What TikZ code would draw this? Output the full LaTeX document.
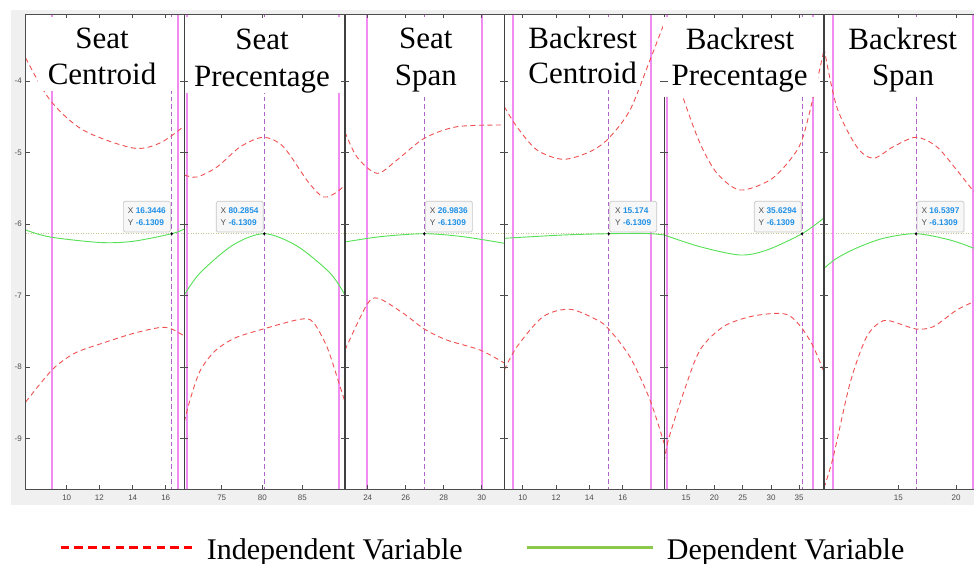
\documentclass[tikz,border=0pt]{standalone}
\usepackage{fontspec}
\setmainfont{Liberation Serif}
\newfontfamily\axfont{Liberation Sans}
\definecolor{bgG}{HTML}{F0F0F0}
\definecolor{magL}{HTML}{F08CF0}
\definecolor{purD}{HTML}{B064C8}
\definecolor{redC}{HTML}{F05050}
\definecolor{grnC}{HTML}{55E055}
\definecolor{tipBlue}{HTML}{1E90E6}
\definecolor{axG}{HTML}{4D4D4D}
\definecolor{dotL}{HTML}{C8C896}
\definecolor{legR}{HTML}{FF0000}
\definecolor{legG}{HTML}{8CC84B}
\tikzset{
  redcurve/.style={redC, line width=0.9pt, dash pattern=on 5pt off 3.5pt},
  grncurve/.style={grnC, line width=0.9pt},
  magline/.style={magL, line width=1.8pt},
  purline/.style={purD, line width=0.9pt, dash pattern=on 4.5pt off 3pt},
  panelline/.style={black!75, line width=1.3pt},
  tickmark/.style={axG, line width=0.7pt},
  ticklab/.style={axG, font=\axfont\fontsize{8}{9.6}\selectfont, inner sep=0pt},
  ttl/.style={font=\fontsize{31}{36}\selectfont, inner sep=0pt, anchor=base},
  tipbox/.style={draw=black!22, fill=white!97!black, rounded corners=1.5pt, line width=0.7pt,
     minimum width=47pt, minimum height=30.6pt, inner sep=1pt, align=left,
     font=\axfont\fontsize{8.3}{12}\selectfont},
  legtxt/.style={font=\fontsize{30}{36}\selectfont, inner sep=0pt, anchor=base west},
  dtdot/.style={fill=black}
}
\newcommand{\tipt}[2]{{\color{axG}X} {\color{tipBlue}\bfseries #1}\\{\color{axG}Y} {\color{tipBlue}\bfseries #2}}
\begin{document}
\begin{tikzpicture}[x=1pt,y=-1pt]
\useasboundingbox (0,0) rectangle (974,564);
% background and axes
\fill[bgG] (11,10) rectangle (974,505);
\fill[white] (25.7,14.3) rectangle (974,489);
% datatip horizontal dotted line
\draw[dotL, line width=0.7pt, dash pattern=on 1pt off 1.5pt] (25.7,233.7) -- (974,233.7);
% magenta bound lines
\foreach \mx in {51.7,177.7,187.3,339,367.3,481.7,513,651,667.3,813.3,833,972.7}
  \draw[magline] (\mx,14.3) -- (\mx,489);
% purple datatip lines
\foreach \px in {171.7,264.3,424.3,608.7,802,916}
  \draw[purline] (\px,14.3) -- (\px,489);
% ---- panel 1
\begin{scope}
\clip (25.7,14.3) rectangle (184.3,489);
\draw[redcurve] plot[smooth] coordinates {(25.7,58) (50,100) (83,130) (133,148) (160,143) (184.3,126)};
\draw[grncurve] plot[smooth] coordinates {(25.7,230) (50,237) (100,242.5) (133,241.3) (171.7,233.7) (184.3,229)};
\draw[redcurve] plot[smooth] coordinates {(25.7,402) (40,384) (55,367) (75,353) (100,344) (133,333.5) (160,327.5) (171.7,329) (184.3,336)};
\end{scope}
% ---- panel 2
\begin{scope}
\clip (184.3,14.3) rectangle (345,489);
\draw[redcurve] plot[smooth] coordinates {(184.3,175) (197,177) (217,167) (240,147) (263.3,137.3) (283.3,146.7) (306.7,180) (320,195) (327,197) (337,192) (345,185)};
\draw[grncurve] plot[smooth] coordinates {(184.3,295) (200,273) (233,245) (264.3,233.7) (297,246) (330,273) (345,295)};
\draw[redcurve] plot[smooth] coordinates {(184.3,422) (190,400) (200,371) (215,351) (235,338) (263.3,329) (300,319.3) (313,322) (327,347) (338,380) (345,402)};
\end{scope}
% ---- panel 3
\begin{scope}
\clip (345,14.3) rectangle (504.3,489);
\draw[redcurve] plot[smooth] coordinates {(345,132) (357,157) (377,173.3) (397,160) (424.3,138.3) (457,126.7) (504.3,125)};
\draw[grncurve] plot[smooth] coordinates {(345,242) (380,236.7) (424.3,233.7) (463,236.7) (504.3,243.3)};
\draw[redcurve] plot[smooth] coordinates {(345,350) (366.7,305) (378.3,298.3) (403.3,313.3) (424.3,329) (446.7,340) (480,350) (504.3,363)};
\end{scope}
% ---- panel 4
\begin{scope}
\clip (504.3,14.3) rectangle (664.3,489);
\draw[redcurve] plot[smooth] coordinates {(504.3,106.7) (517,127) (537,150) (563,159.3) (590,151.7) (608.7,138.3) (630,110) (650,60) (664.3,23)};
\draw[grncurve] plot[smooth] coordinates {(504.3,238.3) (563,235) (608.7,233.7) (647,233.5) (664.3,235)};
\draw[redcurve] plot[smooth] coordinates {(504.3,370) (517,346.7) (543,316.7) (570,309.3) (597,320) (608.7,329) (630,357) (650,400) (664.3,444)};
\end{scope}
% ---- panel 5
\begin{scope}
\clip (664.3,14.3) rectangle (824,489);
\draw[redcurve] plot[smooth] coordinates {(668,50) (683.3,98.3) (700,143.3) (717,173.3) (740,190) (770,180) (790,160) (802,140) (813.3,97) (824,50)};
\draw[grncurve] plot[smooth] coordinates {(664.3,235) (700,246.7) (740,255) (767,250) (802,233.7) (824,218)};
\draw[redcurve] plot[smooth] coordinates {(664.3,462) (668.3,440) (683.3,393.3) (700,350) (723.3,326.7) (750,316.7) (776.7,313.3) (790,316) (802,328.3) (813.3,346.7) (824,372)};
\end{scope}
% ---- panel 6
\begin{scope}
\clip (824,14.3) rectangle (974,489);
\draw[redcurve] plot[smooth] coordinates {(824,48) (836.7,106.7) (856.7,146.7) (873.3,158.3) (893.3,146.7) (916,137.3) (936.7,146.7) (956.7,170) (974,192)};
\draw[grncurve] plot[smooth] coordinates {(824,268.3) (836.7,258.3) (856.7,248) (883.3,238.3) (916,233.7) (950,240) (974,248.3)};
\draw[redcurve] plot[smooth] coordinates {(824,488) (833.3,456.7) (850,383.3) (866.7,336.7) (883.3,320.7) (900,324) (916,329) (933.3,326.7) (956.7,310) (974,301.7)};
\end{scope}
% panel separator lines
\foreach \bx in {184.3,345,504.3,664.3,824}
  \draw[panelline] (\bx,14.3) -- (\bx,489);
% title boxes (white backgrounds)
\fill[white] (38,17) rectangle (174.5,91);
\fill[white] (186,17) rectangle (342,93);
\fill[white] (385,17) rectangle (466,94);
\fill[white] (524,17) rectangle (640,90);
\fill[white] (663.3,17) rectangle (818,97);
\fill[white] (838,17) rectangle (968,97);
% frame
\draw[axG, line width=0.8pt] (974,14.3) -- (25.7,14.3) -- (25.7,489) -- (974,489);
% y ticks
\foreach \yy/\yl in {81/-4,152.5/-5,224/-6,295.4/-7,366.9/-8,438.3/-9}{
  \draw[tickmark] (25.7,\yy) -- (29.7,\yy);
  \node[ticklab, anchor=east] (yl\yl) at (22,\yy) {\yl};
  \foreach \bx in {184.3,345,504.3,664.3,824}
    \draw[tickmark] (\bx-4,\yy) -- (\bx+4,\yy);
}
% x ticks
\foreach \tx/\tl in {66.7/10,99.3/12,132.7/14,165.7/16,221.7/75,262.3/80,302.3/85,367.7/24,405.7/26,443.7/28,481.7/30,522.7/10,556/12,589.3/14,622.7/16,686/15,714.3/20,742.7/25,771/30,799/35,898.3/15,956/20}{
  \draw[tickmark] (\tx,489) -- (\tx,485);
  \draw[tickmark] (\tx,14.3) -- (\tx,18.3);
  \node[ticklab] (xl\tx) at (\tx,498) {\tl};
}
% titles
\node[ttl] (t1a) at (102,48.3) {Seat};
\node[ttl] (t1b) at (102,85) {Centroid};
\node[ttl] (t2a) at (262,49.5) {Seat};
\node[ttl] (t2b) at (262,86.3) {Precentage};
\node[ttl] (t3a) at (425.8,49) {Seat};
\node[ttl] (t3b) at (425.8,85.5) {Span};
\node[ttl] (t4a) at (582.7,48.3) {Backrest};
\node[ttl] (t4b) at (582.7,84) {Centroid};
\node[ttl] (t5a) at (740,49.3) {Backrest};
\node[ttl] (t5b) at (739.7,85.5) {Precentage};
\node[ttl] (t6a) at (902.7,50) {Backrest};
\node[ttl] (t6b) at (903,85.5) {Span};
% datatips
\node[tipbox, anchor=south east] (tip1) at (170.7,232.3) {\tipt{16.3446}{-6.1309}};
\node[tipbox, anchor=south east] (tip2) at (263.5,232.3) {\tipt{80.2854}{-6.1309}};
\node[tipbox, anchor=south west] (tip3) at (425,232.3) {\tipt{26.9836}{-6.1309}};
\node[tipbox, anchor=south west] (tip4) at (609.3,232.3) {\tipt{15.174}{-6.1309}};
\node[tipbox, anchor=south east] (tip5) at (801.5,232.3) {\tipt{35.6294}{-6.1309}};
\node[tipbox, anchor=south west] (tip6) at (916.7,232.3) {\tipt{16.5397}{-6.1309}};
\foreach \px in {171.7,264.3,424.3,608.7,802,916}
  \fill[dtdot] (\px,233.7) circle (1.4pt);
% legend
\coordinate (lr1) at (60.7,547.5);
\coordinate (lr2) at (191.7,547.5);
\draw[legR, line width=2.6pt, dash pattern=on 8.5pt off 5.2pt] (lr1) -- (lr2);
\node[legtxt] (lind) at (206.7,559) {Independent Variable};
\coordinate (lg1) at (526.7,547.7);
\coordinate (lg2) at (653.3,547.7);
\draw[legG, line width=2.6pt] (lg1) -- (lg2);
\node[legtxt] (ldep) at (666.7,559) {Dependent Variable};
\end{tikzpicture}
\end{document}
